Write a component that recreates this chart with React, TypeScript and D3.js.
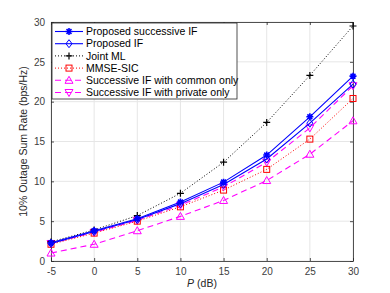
import React, { useRef, useEffect } from 'react';
import * as d3 from 'd3';

// transmit power (dB)
const powerDb = [-5, 0, 5, 10, 15, 20, 25, 30];

// 10% outage sum rate per scheme (bps/Hz)
const proposedSuccessiveIF = [2.3, 3.8, 5.3, 7.4, 9.9, 13.3, 18.1, 23.2];
const proposedIF = [2.2, 3.7, 5.2, 7.2, 9.6, 12.8, 17.3, 22.2];
const jointML = [2.4, 3.9, 5.7, 8.5, 12.4, 17.4, 23.3, 29.5];
const mmseSic = [2.1, 3.5, 5.0, 6.8, 8.9, 11.5, 15.3, 20.4];
const commonOnly = [1.0, 2.1, 3.8, 5.6, 7.6, 10.1, 13.4, 17.6];
const privateOnly = [2.2, 3.6, 5.1, 7.0, 9.3, 12.4, 16.7, 22.0];

const xTicks = [-5, 0, 5, 10, 15, 20, 25, 30];
const yTicks = [0, 5, 10, 15, 20, 25, 30];

const seriesList = [
  { name: 'Proposed successive IF', values: proposedSuccessiveIF, color: '#0000ff', dash: '', marker: 'star', width: 1.1 },
  { name: 'Proposed IF', values: proposedIF, color: '#0000ff', dash: '', marker: 'diamond', width: 1.1 },
  { name: 'Joint ML', values: jointML, color: '#000000', dash: '1,2', marker: 'plus', width: 1 },
  { name: 'MMSE-SIC', values: mmseSic, color: '#ff0000', dash: '1,2', marker: 'square', width: 1 },
  { name: 'Successive IF with common only', values: commonOnly, color: '#ff00ff', dash: '6,4', marker: 'up', width: 1.1 },
  { name: 'Successive IF with private only', values: privateOnly, color: '#ff00ff', dash: '6,4', marker: 'down', width: 1.1 },
];

const drawMarker = (g: any, kind: string, x: number, y: number, color: string) => {
  const s = 3.5;
  if (kind === 'star') {
    const p = `M${x - s},${y}L${x + s},${y}M${x},${y - s}L${x},${y + s}M${x - s * 0.7},${y - s * 0.7}L${x + s * 0.7},${y + s * 0.7}M${x - s * 0.7},${y + s * 0.7}L${x + s * 0.7},${y - s * 0.7}`;
    g.append('path').attr('d', p).attr('stroke', color).attr('stroke-width', 1.6).attr('fill', 'none');
  } else if (kind === 'diamond') {
    g.append('path').attr('d', `M${x},${y - 4}L${x + 3},${y}L${x},${y + 4}L${x - 3},${y}Z`)
      .attr('stroke', color).attr('fill', 'none').attr('stroke-width', 1);
  } else if (kind === 'plus') {
    g.append('path').attr('d', `M${x - s},${y}L${x + s},${y}M${x},${y - s}L${x},${y + s}`)
      .attr('stroke', color).attr('stroke-width', 1.2).attr('fill', 'none');
  } else if (kind === 'square') {
    g.append('rect').attr('x', x - 3).attr('y', y - 3).attr('width', 6).attr('height', 6)
      .attr('stroke', color).attr('fill', 'none').attr('stroke-width', 1);
  } else if (kind === 'up') {
    g.append('path').attr('d', `M${x},${y - 4}L${x + 4},${y + 3}L${x - 4},${y + 3}Z`)
      .attr('stroke', color).attr('fill', 'none').attr('stroke-width', 1);
  } else if (kind === 'down') {
    g.append('path').attr('d', `M${x},${y + 4}L${x + 4},${y - 3}L${x - 4},${y - 3}Z`)
      .attr('stroke', color).attr('fill', 'none').attr('stroke-width', 1);
  }
};

const App = () => {
  const ref = useRef<SVGSVGElement>(null);

  useEffect(() => {
    const svg = d3.select(ref.current);
    svg.selectAll('*').remove();

    const margin = { top: 22, right: 37, bottom: 32, left: 51 };
    const width = 390 - margin.left - margin.right;
    const height = 293 - margin.top - margin.bottom;
    const font = 'Liberation Sans, Arial, sans-serif';

    const g = svg.append('g').attr('transform', `translate(${margin.left},${margin.top})`);

    const x = d3.scaleLinear().domain([-5, 30]).range([0, width]);
    const y = d3.scaleLinear().domain([0, 30]).range([height, 0]);

    g.append('rect').attr('width', width).attr('height', height).attr('fill', '#fff');

    // grid
    g.selectAll('.vgrid').data(xTicks).enter().append('line')
      .attr('x1', d => x(d)).attr('x2', d => x(d)).attr('y1', 0).attr('y2', height)
      .attr('stroke', '#e6e6e6').attr('stroke-width', 1);
    g.selectAll('.hgrid').data(yTicks).enter().append('line')
      .attr('y1', d => y(d)).attr('y2', d => y(d)).attr('x1', 0).attr('x2', width)
      .attr('stroke', '#e6e6e6').attr('stroke-width', 1);

    // axes, MATLAB style box with inward ticks
    const axisColor = '#262626';
    const fmt = (d: any) => String(d);
    const xAxis = g.append('g').attr('transform', `translate(0,${height})`)
      .call(d3.axisBottom(x).tickValues(xTicks).tickSizeInner(-3).tickSizeOuter(0).tickPadding(7).tickFormat(fmt));
    const yAxis = g.append('g')
      .call(d3.axisLeft(y).tickValues(yTicks).tickSizeInner(-3).tickSizeOuter(0).tickPadding(6).tickFormat(fmt));
    const xTop = g.append('g')
      .call(d3.axisTop(x).tickValues(xTicks).tickSizeInner(-3).tickSizeOuter(0).tickFormat(() => ''));
    const yRight = g.append('g').attr('transform', `translate(${width},0)`)
      .call(d3.axisRight(y).tickValues(yTicks).tickSizeInner(-3).tickSizeOuter(0).tickFormat(() => ''));
    [xAxis, yAxis, xTop, yRight].forEach(a => {
      a.selectAll('path').attr('stroke', axisColor).attr('stroke-width', 0.8);
      a.selectAll('line').attr('stroke', axisColor).attr('stroke-width', 0.8);
      a.selectAll('text').attr('fill', '#404040').attr('font-size', 10).attr('font-family', font);
    });

    const line = d3.line<number>().x((d, i) => x(powerDb[i])).y(d => y(d));

    // draw in reverse so the first series sits on top
    [...seriesList].reverse().forEach(s => {
      g.append('path').datum(s.values).attr('d', line)
        .attr('fill', 'none').attr('stroke', s.color).attr('stroke-width', s.width)
        .attr('stroke-dasharray', s.dash || null);
      s.values.forEach((v, i) => drawMarker(g, s.marker, x(powerDb[i]), y(v), s.color));
    });

    // legend
    const lg = g.append('g').attr('transform', 'translate(1,1)');
    lg.append('rect').attr('width', 185).attr('height', 76)
      .attr('fill', '#fff').attr('stroke', '#262626').attr('stroke-width', 0.8);
    seriesList.forEach((s, i) => {
      const ly = 8.5 + i * 12.2;
      lg.append('line').attr('x1', 3).attr('x2', 31).attr('y1', ly).attr('y2', ly)
        .attr('stroke', s.color).attr('stroke-width', s.width)
        .attr('stroke-dasharray', s.dash || null);
      drawMarker(lg, s.marker, 17, ly, s.color);
      lg.append('text').attr('x', 34).attr('y', ly).attr('dy', '0.35em')
        .attr('font-size', 10.5).attr('font-family', font).attr('fill', '#000').text(s.name);
    });

    // axis labels
    svg.append('text')
      .attr('transform', `translate(27,${margin.top + height / 2}) rotate(-90)`)
      .attr('text-anchor', 'middle').attr('font-size', 10.5).attr('font-family', font)
      .attr('fill', axisColor).text('10% Outage Sum Rate (bps/Hz)');
    const xl = svg.append('text')
      .attr('x', margin.left + width / 2).attr('y', 287)
      .attr('text-anchor', 'middle').attr('font-size', 10.5).attr('font-family', font)
      .attr('fill', axisColor);
    xl.append('tspan').attr('font-style', 'italic').text('P');
    xl.append('tspan').text(' (dB)');
  }, []);

  return (
    <div style={{ position: 'absolute', left: 0, top: 0, width: 390, height: 293 }}>
      <svg ref={ref} width={390} height={293} style={{ display: 'block', background: '#fff' }} />
    </div>
  );
};

export default App;
